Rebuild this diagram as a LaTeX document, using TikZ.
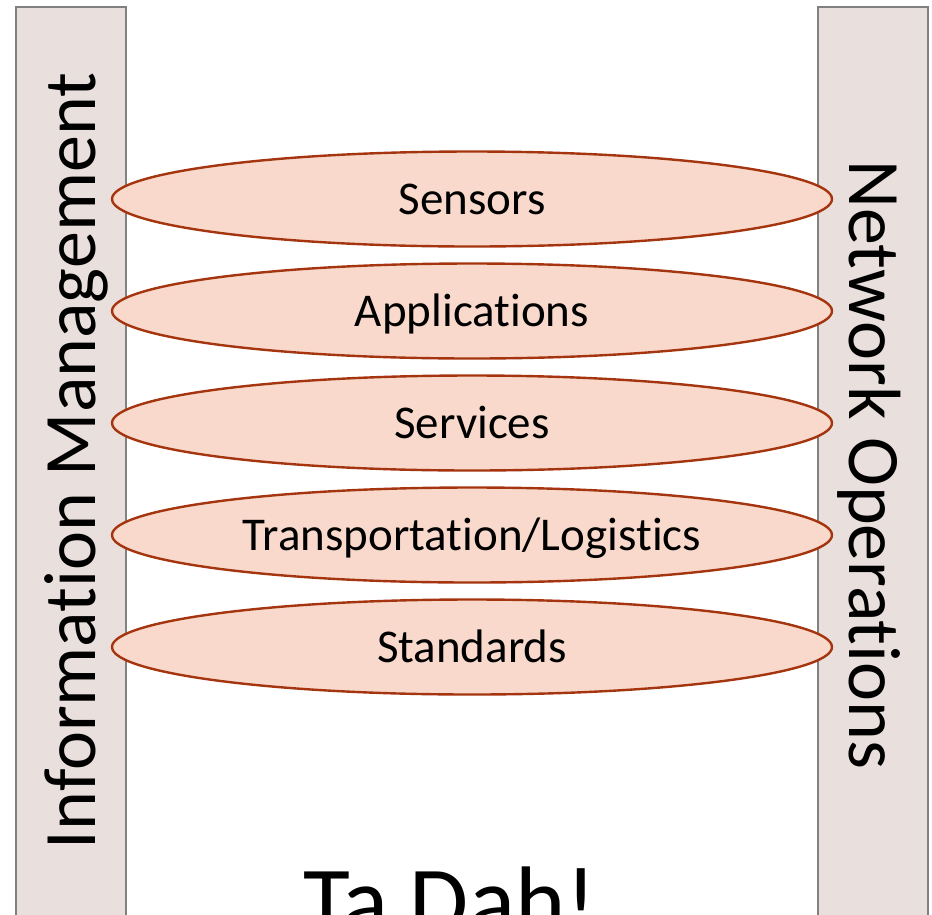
\documentclass[tikz,border=0pt]{standalone}
\usepackage{fontspec}
\setmainfont{Carlito}[Ligatures=NoCommon]
\usetikzlibrary{shapes.geometric}
\definecolor{barfill}{HTML}{E9DFDC}
\definecolor{barline}{HTML}{808080}
\definecolor{ellfill}{HTML}{F8D9CC}
\definecolor{elline}{HTML}{A5350F}
\tikzset{
  bar/.style={draw=barline, fill=barfill, line width=1.4pt},
  layer/.style={ellipse, draw=elline, fill=ellfill, line width=2.4pt,
    minimum width=720pt, minimum height=95pt, inner sep=0pt,
    font=\fontsize{47}{56}\selectfont, text height=30pt, text depth=0pt},
  side/.style={font=\fontsize{74}{88}\selectfont, inner sep=0pt, anchor=base},
}
\begin{document}
\begin{tikzpicture}[x=1pt,y=-1pt]
\clip (0,0) rectangle (932,914);
\fill[white] (0,0) rectangle (932,914);
\draw[bar] (16,7) rectangle (126,940);
\draw[bar] (818,7) rectangle (928,940);
\node[side, rotate=90] (im) at (95,461) {Information Management};
\node[side, rotate=-90] (no) at (849,465) {Network Operations};
\node[layer] (sen) at (472,199) {Sensors};
\node[layer] (app) at (472,311) {Applications};
\node[layer] (ser) at (472,423) {Services};
\node[layer] (tra) at (472,535) {Transportation/Logistics};
\node[layer] (sta) at (472,647) {Standards};
\node[font=\fontsize{96}{115}\selectfont, inner sep=0pt, anchor=base] (tada) at (450,933) {Ta Dah!};
\end{tikzpicture}
\end{document}
